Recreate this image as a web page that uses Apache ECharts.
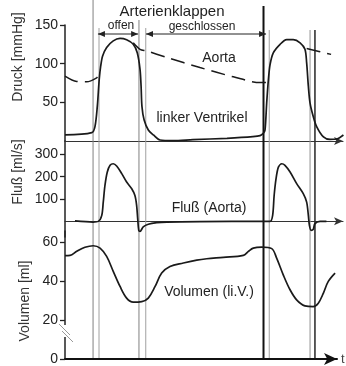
<!DOCTYPE html>
<html><head><meta charset="utf-8">
<script src="https://cdn.jsdelivr.net/npm/echarts@6/dist/echarts.min.js"></script>
<style>html,body{margin:0;padding:0;background:#fff}#c{width:346px;height:366px}</style>
</head><body><div id="c"></div>
<script>
// ---- Data (time in s) ----
const lvTime = [0,0.126,0.141,0.152,0.161,0.168,0.177,0.196,0.227,0.259,0.29,0.321,0.34,0.353,0.358,0.362,0.372,0.392,0.416,0.447,0.508,0.602,0.762,0.884,0.918,0.933,0.941,0.949,0.957,0.965,0.98,1.012,1.043,1.074,1.106,1.129,1.137,1.145,1.153,1.168,1.184,1.216,1.247,1.279,1.31];
const lvPressure = [7.8,10.8,18.6,44.7,79.5,97,110,121,129.5,132.6,130.8,125,114,92.6,70.8,44.7,27.4,14.3,7.8,1.3,0.4,1.7,3.5,5.6,7,10,14,49.5,79.5,99,114,125,131,131,127,118.6,101,70.8,49,31.7,18.6,5.2,2,2.6,7.8];
const aoTime = [0,0.055,0.102,0.149,0.16,null,0.321,0.353,0.384,0.479,0.635,0.792,0.918,0.949,null,1.137,1.252];
const aoPressure = [84,77,76.5,81.7,86,null,127,118.6,116.5,108,95,83,75.5,75.5,null,119.6,112];
const flowTime = [0.047,0.132,0.157,0.173,0.18,0.188,0.199,0.212,0.227,0.243,0.267,0.29,0.314,0.329,0.337,0.342,0.347,0.353,0.368,0.392,0.432,0.479,0.635,0.933,0.965,0.977,0.984,0.993,1.004,1.02,1.035,1.059,1.09,1.121,1.137,1.145,1.15,1.158,1.168,1.176,1.2,1.23];
const flowValues = [2,-3,0,27,86,161,221,251,258,248,214,176,146,116,72,12,-40,-45,-25,-13,-6,-3,-1,0,0,27,116,191,243,258,251,221,169,124,86,27,-18,-40,-36,-10,0,0];
const volTime = [0,0.024,0.055,0.094,0.133,0.165,0.196,0.227,0.259,0.29,0.321,0.361,0.392,0.424,0.455,0.494,0.557,0.62,0.667,0.745,0.839,0.863,0.886,0.926,0.973,0.996,1.027,1.059,1.09,1.129,1.168,1.192,1.216,1.239,1.271];
const volValues = [53.3,53.4,55.5,57.6,58.4,57.2,52.9,45.2,37.4,31.4,29.3,29.6,31.4,37.4,44.3,47.7,49.5,51,51.7,52.4,53.4,55.5,57.2,57.7,56.9,52,43.4,35.7,30.5,27.4,27,28.8,34,40,44.3];
const pressureTicks = [50,100,150];
const flowTicks = [100,200,300];
const volumeTicks = [0,20,40,60];
// valve event times (s)
const eventTimes = [0.132,0.16,0.348,0.38,0.934,0.961,1.153,1.176];
// valve-state intervals: [start, end]
const valveOpen = [0.155,0.344];
const valveClosed = [0.381,0.946];

// ---- helpers ----
const pairs = (t, v) => t.map((x, i) => [x, v[i]]);
function segments(t, v) {
  const out = []; let cur = [];
  t.forEach((x, i) => {
    if (x === null) { if (cur.length) out.push(cur); cur = []; }
    else cur.push([x, v[i]]);
  });
  if (cur.length) out.push(cur);
  return out;
}
const FONT = '"Liberation Sans", Arial, Helvetica, sans-serif';
const INK = '#1a1a1a';
const curveStyle = { color: INK, width: 1.7 };

const eventStyles = [
  { top: 0, color: '#808080', w: 1 },
  { top: 28, color: '#a0a0a0', w: 1 },
  { top: 20, color: '#808080', w: 1 },
  { top: 28, color: '#a0a0a0', w: 1 },
  { top: 6, color: '#111', w: 2 },
  { top: 30, color: '#a0a0a0', w: 1 },
  { top: 30, color: '#909090', w: 1 },
  { top: 30, color: '#333', w: 1.6 }
];

const chart = echarts.init(document.getElementById('c'), null, { renderer: 'canvas' });

function yAx(grid, min, max, ticks) {
  return {
    type: 'value', gridIndex: grid, min, max,
    splitLine: { show: false },
    axisLine: { show: true, lineStyle: { color: '#222', width: 1.5 } },
    axisTick: { show: true, length: 5, customValues: ticks, lineStyle: { color: '#222', width: 1.3 } },
    axisLabel: { customValues: ticks, color: '#222', fontSize: 14, fontFamily: FONT, margin: 7 }
  };
}
function xAx(grid, max, arrowSize, lineW, color) {
  return {
    type: 'value', gridIndex: grid, min: 0, max,
    axisLine: { show: true, onZero: true, symbol: ['none', 'arrow'], symbolSize: arrowSize,
      lineStyle: { color, width: lineW } },
    axisTick: { show: false }, axisLabel: { show: false }, splitLine: { show: false }
  };
}

const aoSegs = segments(aoTime, aoPressure);

const option = {
  backgroundColor: '#fff',
  animation: false,
  grid: [
    { left: 65, top: 25, width: 278, height: 116 },
    { left: 65, top: 141, width: 278, height: 96 },
    { left: 65, top: 231, width: 272, height: 128 },
    { left: 65, top: 0, width: 278, height: 366 }
  ],
  xAxis: [
    xAx(0, 1.308, [6, 9], 1.1, '#333'),
    xAx(1, 1.308, [6, 9], 1.1, '#333'),
    Object.assign(xAx(2, 1.28, [9, 13], 2, '#111'), { name: 't', nameGap: 4,
      nameTextStyle: { color: '#444', fontSize: 13, fontFamily: FONT } }),
    { type: 'value', gridIndex: 3, min: 0, max: 1.308, show: false }
  ],
  yAxis: [
    yAx(0, 0, 150, pressureTicks),
    yAx(1, -70, 360, flowTicks),
    yAx(2, 0, 66, volumeTicks),
    { type: 'value', gridIndex: 3, min: 0, max: 366, inverse: true, show: false }
  ],
  series: [
    { type: 'line', xAxisIndex: 0, yAxisIndex: 0, data: pairs(lvTime, lvPressure),
      showSymbol: false, smooth: 0.3, lineStyle: curveStyle, z: 5 },
    ...aoSegs.map(seg => ({ type: 'line', xAxisIndex: 0, yAxisIndex: 0, data: seg,
      showSymbol: false, smooth: 0.3, lineStyle: { color: INK, width: 1.5, type: [14, 7] }, z: 4 })),
    { type: 'line', xAxisIndex: 1, yAxisIndex: 1, data: pairs(flowTime, flowValues),
      showSymbol: false, smooth: 0.3, lineStyle: curveStyle, z: 5 },
    { type: 'line', xAxisIndex: 2, yAxisIndex: 2, data: pairs(volTime, volValues),
      showSymbol: false, smooth: 0.35, lineStyle: curveStyle, z: 5 },
    { type: 'custom', xAxisIndex: 3, yAxisIndex: 3, z: 1, silent: true, clip: false,
      data: eventTimes.map((t, i) => [t, eventStyles[i].top, 358]),
      renderItem(params, api) {
        const a = api.coord([api.value(0), api.value(1)]);
        const b = api.coord([api.value(0), api.value(2)]);
        const s = eventStyles[params.dataIndex];
        return { type: 'line', shape: { x1: a[0], y1: a[1], x2: b[0], y2: b[1] },
          style: { stroke: s.color, lineWidth: s.w } };
      } },
    { type: 'custom', xAxisIndex: 3, yAxisIndex: 3, z: 3, silent: true, clip: false,
      encode: { x: [0, 1], y: 2 },
      data: [[valveOpen[0], valveOpen[1], 34], [valveClosed[0], valveClosed[1], 34]],
      renderItem(params, api) {
        const a = api.coord([api.value(0), api.value(2)]);
        const b = api.coord([api.value(1), api.value(2)]);
        const y = a[1];
        return { type: 'group', children: [
          { type: 'line', shape: { x1: a[0], y1: y, x2: b[0], y2: y }, style: { stroke: '#222', lineWidth: 1 } },
          { type: 'polygon', shape: { points: [[a[0], y], [a[0] + 7, y - 3], [a[0] + 7, y + 3]] }, style: { fill: '#222' } },
          { type: 'polygon', shape: { points: [[b[0], y], [b[0] - 7, y - 3], [b[0] - 7, y + 3]] }, style: { fill: '#222' } }
        ] };
      } }
  ],
  graphic: [
    { type: 'rect', z: 50, shape: { x: 62, y: 325, width: 6, height: 12 }, style: { fill: '#fff' } },
    { type: 'line', z: 51, shape: { x1: 59, y1: 324, x2: 70, y2: 335 }, style: { stroke: '#999', lineWidth: 1 } },
    { type: 'line', z: 51, shape: { x1: 62, y1: 331, x2: 73, y2: 342 }, style: { stroke: '#999', lineWidth: 1 } },
    ...[
      ['Arterienklappen', 172, 12, 15],
      ['offen', 121, 26, 12],
      ['geschlossen', 202, 27, 12],
      ['Aorta', 219, 58, 14],
      ['linker Ventrikel', 202, 118, 14],
      ['Fluß (Aorta)', 209, 208, 14],
      ['Volumen (li.V.)', 209, 292, 14]
    ].map(([text, x, y, fs]) => ({ type: 'text', z: 60, x, y,
      style: { text, fill: '#222', font: fs + 'px ' + FONT, textAlign: 'center', textVerticalAlign: 'middle' } })),
    ...[
      ['Druck [mmHg]', 18, 57],
      ['Fluß [ml/s]', 18, 172],
      ['Volumen [ml]', 25, 301]
    ].map(([text, x, y]) => ({ type: 'text', z: 60, x, y, rotation: Math.PI / 2,
      style: { text, fill: '#333', font: '14px ' + FONT, textAlign: 'center', textVerticalAlign: 'middle' } }))
  ]
};
chart.setOption(option);
</script></body></html>
